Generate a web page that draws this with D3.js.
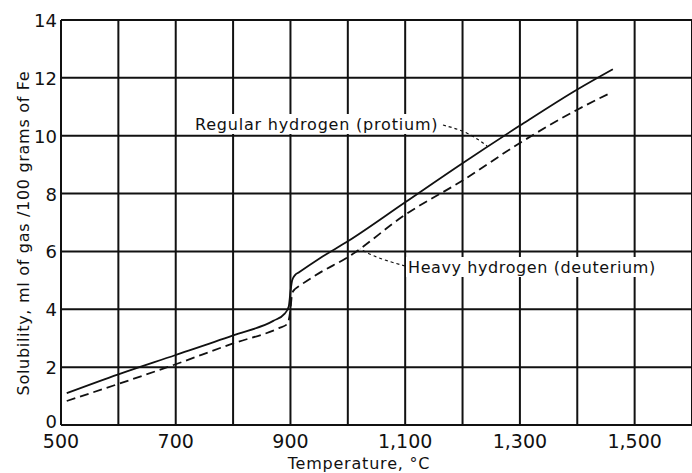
<!DOCTYPE html>
<html>
<head>
<meta charset="utf-8">
<script src="https://cdn.jsdelivr.net/npm/d3@7"></script>
<style>
  body { margin: 0; background: #fff; }
  text { font-family: "DejaVu Sans", sans-serif; fill: #111; }
</style>
</head>
<body>
<div id="chart"></div>
<script>
// values
var xTicks = [500, 700, 900, 1100, 1300, 1500];
var xGrid = [500, 600, 700, 800, 900, 1000, 1100, 1200, 1300, 1400, 1500, 1600];
var yTicks = [0, 2, 4, 6, 8, 10, 12, 14];

var protium = [
  {t: 510, s: 1.1}, {t: 600, s: 1.75}, {t: 700, s: 2.42}, {t: 800, s: 3.1},
  {t: 870, s: 3.6}, {t: 890, s: 3.85}, {t: 897, s: 4.1}, {t: 900, s: 4.6},
  {t: 903, s: 5.0}, {t: 908, s: 5.18}, {t: 915, s: 5.28}, {t: 950, s: 5.75},
  {t: 1000, s: 6.35}, {t: 1100, s: 7.7}, {t: 1200, s: 9.05}, {t: 1300, s: 10.35},
  {t: 1400, s: 11.6}, {t: 1462, s: 12.3}
];
var deuterium = [
  {t: 510, s: 0.83}, {t: 600, s: 1.42}, {t: 700, s: 2.1}, {t: 800, s: 2.82},
  {t: 880, s: 3.35}, {t: 895, s: 3.5}, {t: 900, s: 4.0}, {t: 903, s: 4.55},
  {t: 908, s: 4.7}, {t: 915, s: 4.8}, {t: 950, s: 5.25}, {t: 1000, s: 5.8},
  {t: 1100, s: 7.27}, {t: 1200, s: 8.45}, {t: 1300, s: 9.75}, {t: 1400, s: 10.9},
  {t: 1460, s: 11.5}
];

var width = 692, height = 473;

var x = d3.scaleLinear().domain([500, 1600]).range([61, 692]);
var y = d3.scaleLinear().domain([0, 14]).range([425, 20]);

var svg = d3.select("#chart").append("svg")
    .attr("width", width)
    .attr("height", height);

// grid
svg.append("g").selectAll("line")
    .data(xGrid)
  .enter().append("line")
    .attr("x1", function(d) { return x(d); })
    .attr("x2", function(d) { return x(d); })
    .attr("y1", y(0)).attr("y2", y(14))
    .attr("stroke", "#111").attr("stroke-width", 2);

svg.append("g").selectAll("line")
    .data(yTicks)
  .enter().append("line")
    .attr("x1", x(500)).attr("x2", x(1600))
    .attr("y1", function(d) { return y(d); })
    .attr("y2", function(d) { return y(d); })
    .attr("stroke", "#111").attr("stroke-width", 2);

// x tick labels
svg.append("g").selectAll("text")
    .data(xTicks)
  .enter().append("text")
    .attr("x", function(d) { return x(d); })
    .attr("y", 448)
    .attr("text-anchor", "middle")
    .style("font-size", "19px")
    .text(function(d) { return d3.format(",")(d); });

// y tick labels
svg.append("g").selectAll("text")
    .data(yTicks)
  .enter().append("text")
    .attr("x", 57)
    .attr("y", function(d) { return d == 0 ? 428 : y(d) + 7; })
    .attr("text-anchor", "end")
    .style("font-size", "18px")
    .text(function(d) { return d; });

// the two curves
var line = d3.line()
    .x(function(d) { return x(d.t); })
    .y(function(d) { return y(d.s); })
    .curve(d3.curveMonotoneX);

svg.append("path")
    .datum(protium)
    .attr("fill", "none")
    .attr("stroke", "#111")
    .attr("stroke-width", 1.8)
    .attr("d", line);

svg.append("path")
    .datum(deuterium)
    .attr("fill", "none")
    .attr("stroke", "#111")
    .attr("stroke-width", 1.8)
    .attr("stroke-dasharray", "9,5")
    .attr("d", line);

// labels with dashed leaders (white box knocks out the grid behind the text)
function label(txt, lx, ly, spacing) {
    var t = svg.append("text")
        .attr("x", lx).attr("y", ly)
        .style("font-size", "16px")
        .style("letter-spacing", spacing)
        .text(txt);
    var b = t.node().getBBox();
    svg.insert("rect", function() { return t.node(); })
        .attr("x", b.x - 2).attr("y", b.y - 1)
        .attr("width", b.width + 4).attr("height", b.height + 1)
        .attr("fill", "#fff");
}

label("Regular hydrogen (protium)", 195, 130, "0.8px");
svg.append("path")
    .attr("d", d3.line().curve(d3.curveBasis)([[443, 125], [468, 132], [487, 146]]))
    .attr("fill", "none").attr("stroke", "#111")
    .attr("stroke-width", 1.2).attr("stroke-dasharray", "3,3");

label("Heavy hydrogen (deuterium)", 408, 273, "0.6px");
svg.append("path")
    .attr("d", d3.line().curve(d3.curveBasis)([[405, 266], [377, 258], [360, 249]]))
    .attr("fill", "none").attr("stroke", "#111")
    .attr("stroke-width", 1.2).attr("stroke-dasharray", "3,3");

// axis titles
svg.append("text")
    .attr("x", 359).attr("y", 469)
    .attr("text-anchor", "middle")
    .style("font-size", "16px")
    .style("letter-spacing", "0.8px")
    .text("Temperature, \u00b0C");

svg.append("text")
    .attr("transform", "translate(29,233) rotate(-90)")
    .attr("text-anchor", "middle")
    .style("font-size", "16px")
    .style("letter-spacing", "0.7px")
    .text("Solubility, ml of gas /100 grams of Fe");
</script>
</body>
</html>
